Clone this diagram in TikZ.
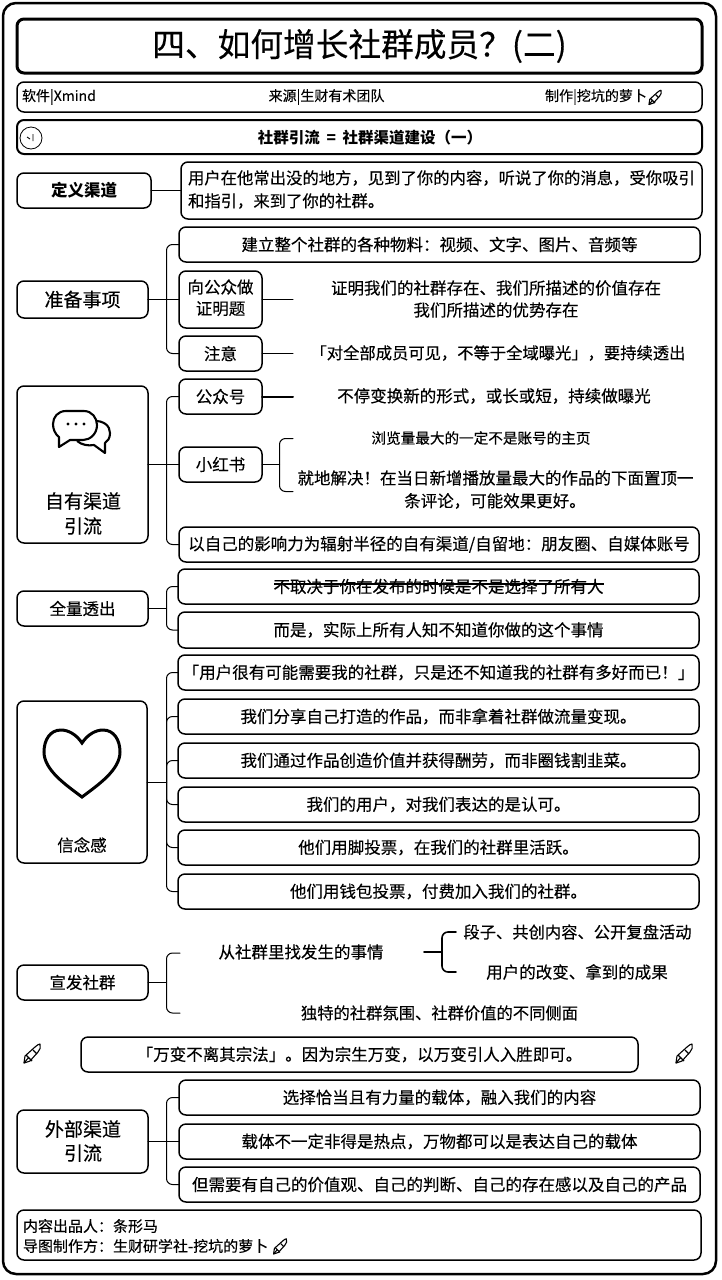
\documentclass[tikz,border=0pt]{standalone}
\usepackage{fontspec}
\setmainfont[FakeBold=0.25,BoldFeatures={FakeBold=0}]{Noto Sans CJK SC}
\newcommand{\fs}[1]{\fontsize{#1}{#1}\selectfont}
\tikzset{
 x=1pt,y=-1pt,
 bx/.style={draw=black,line width=1.5pt,rounded corners=7pt,inner sep=0pt,outer sep=0pt,align=center},
 tx/.style={inner sep=0pt,outer sep=0pt,align=center,text=black},
 lf/.style={tx,anchor=west},
 conn/.style={draw=black,line width=1pt,line cap=round},
 br/.style={conn,rounded corners=6pt},
 penicon/.pic={
  \draw[line width=1.1pt,line join=round,fill=white] (-8,10) -- (-7,3) -- (3,-6) .. controls (5,-8) and (7,-9) .. (8,-9) .. controls (9,-6) and (8,-3) .. (6,-1) -- (-2,8) -- cycle;
  \draw[line width=1.1pt] (-8,10) -- (-3,4) (-6,2) -- (0,8) (1,-3) -- (5,1);
 }
}
% name x1 y1 x2 y2 style size text
\newcommand{\B}[8]{%
 \pgfmathsetmacro{\cx}{(#2+#4)/2}\pgfmathsetmacro{\cy}{(#3+#5)/2}%
 \pgfmathsetmacro{\ww}{#4-#2}\pgfmathsetmacro{\hh}{#5-#3}%
 \node[bx,#6,minimum width=\ww pt,minimum height=\hh pt,font=\fs{#7}] (#1) at (\cx,\cy) {#8};}
\newcommand{\T}[5]{\node[tx,font=\fs{#4}] (#1) at (#2,#3) {#5};}
\newcommand{\stem}[1]{\draw[conn] (#1.east) -- (tk |- #1.east);}
\newcommand{\Br}[2]{\draw[br] (tk |- #1.east) |- (#2.west);}
\begin{document}
\begin{tikzpicture}
\useasboundingbox (0,0) rectangle (722,1280);
\fill[white] (0,0) rectangle (722,1280);
\coordinate (tk) at (166.5,0);
\draw[line width=2.5pt,rounded corners=13pt] (3,3) rectangle (716,1274);
\B{title}{17}{19}{702}{73}{line width=3pt}{34}{}
\node[tx,font=\fs{32.7}] (titletext) at (359.5,46) {四、如何增长社群成员？(二)};
\B{info}{17}{82}{702}{112}{}{14}{}
\node[lf,font=\fs{14}] (soft) at (22,97) {软件|Xmind};
\T{src}{326.5}{97}{14}{来源|生财有术团队}
\T{made}{596}{97}{14}{制作|挖坑的萝卜}
\pic at (655,97) [scale=.75] {penicon};
\B{head}{17}{120}{702}{154}{line width=2pt}{15.5}{}
\T{headtext}{370}{138}{15.5}{\bfseries 社群引流\hspace{3pt} = \hspace{3pt}社群渠道建设（一）}
\node[circle,draw,line width=.8pt,minimum size=22pt,inner sep=0pt] (clock) at (31,138) {};
\draw[line width=.9pt] (27,137) -- (30,139) (33,134) -- (33,141);
\B{def}{17}{173}{151}{208}{}{16.5}{\bfseries 定义渠道}
\B{defbody}{181}{162}{702}{219}{}{16.3}{}
\node[lf,font=\fs{16.35}] (d1) at (188,178) {用户在他常出没的地方，见到了你的内容，听说了你的消息，受你吸引};
\node[lf,font=\fs{16.35}] (d2) at (188,201) {和指引，来到了你的社群。};
\draw[conn] (def) -- (defbody);
% prep
\B{prep}{17}{281}{148}{318}{}{19}{准备事项}
\B{p1}{179}{227}{700}{262}{}{16.5}{建立整个社群的各种物料：视频、文字、图片、音频等}
\B{p2}{179}{271}{262}{328}{}{16.5}{\begin{tabular}{@{}c@{}}向公众做\\[3pt]证明题\end{tabular}}
\B{p3}{179}{336}{262}{371}{}{16.5}{注意}
\stem{prep}\Br{prep}{p1}\Br{prep}{p3}\draw[conn] (prep.east) -- (p2.west);
\coordinate (p2e) at (293,299.5);\draw[conn] (p2.east) -- (p2e);
\coordinate (p3e) at (293,353.5);\draw[conn] (p3.east) -- (p3e);
\T{p2a}{496}{288}{16.5}{证明我们的社群存在、我们所描述的价值存在}
\T{p2b}{496}{310}{16.5}{我们所描述的优势存在}
\T{p3a}{498}{353}{16.3}{「对全部成员可见，不等于全域曝光」，要持续透出}
% own
\B{own}{17}{386}{148}{543}{}{19}{}
\T{own1}{83}{501}{19}{自有渠道}
\T{own2}{83}{526}{19}{引流}
\draw[line width=2.1pt,line join=round,fill=white] (92,421) .. controls (104,420) and (110,426) .. (110,433) .. controls (110,438) and (108,441) .. (105,443) -- (105,453) -- (94,445) .. controls (88,446) and (82,445) .. (77,441);
\draw[line width=2.1pt,line join=round,fill=white] (66,411) -- (84,411) .. controls (92,411) and (97,418) .. (97,425) .. controls (97,434) and (90,440) .. (83,440) -- (70,440) -- (59,447) -- (59,437) .. controls (55,434) and (53,429) .. (53,424) .. controls (53,417) and (58,411) .. (66,411) -- cycle;
\fill (68,424) circle (1.7) (76,424) circle (1.7) (84,424) circle (1.7);
\B{o1}{179}{379}{262}{414}{}{16.5}{公众号}
\B{o2}{179}{447}{262}{482}{}{16.5}{小红书}
\B{o3}{179}{527}{699}{562}{}{16.5}{以自己的影响力为辐射半径的自有渠道/自留地：朋友圈、自媒体账号}
\stem{own}\Br{own}{o1}\Br{own}{o3}\draw[conn] (own.east) -- (o2.west);
\coordinate (o1e) at (293,396.5);\draw[conn,line width=2pt] (o1.east) -- (o1e);
\T{o1a}{494}{396}{16.5}{不停变换新的形式，或长或短，持续做曝光}
\coordinate (o2j) at (279.5,464.5);\coordinate (o2u) at (293,438.5);\coordinate (o2d) at (293,491.5);
\draw[conn] (o2.east) -- (o2j);
\draw[br] (o2u) -| (o2j) |- (o2d);
\T{o2a}{481}{438}{14.6}{浏览量最大的一定不是账号的主页}
\T{o2b}{495.5}{478}{16.5}{就地解决！在当日新增播放量最大的作品的下面置顶一}
\T{o2c}{495}{501}{16.5}{条评论，可能效果更好。}
% all
\B{all}{17}{591}{148}{626}{}{16.5}{全量透出}
\B{a1}{178}{569}{699}{604}{}{16.5}{不取决于你在发布的时候是不是选择了所有人}
\B{a2}{178}{612}{699}{648}{}{16.5}{而是，实际上所有人知不知道你做的这个事情}
\stem{all}\Br{all}{a1}\Br{all}{a2}
\coordinate (sl) at (274,584);\coordinate (sr) at (604,584);\draw[line width=1.1pt] (sl) -- (sr);
% belief
\B{bel}{17}{701}{147}{863}{}{16.5}{}
\draw[line width=3pt,line join=miter] (82,743) .. controls (76,734) and (68,730) .. (61,730) .. controls (50,730) and (44,740) .. (44,752) .. controls (44,770) and (66,785) .. (82,797) .. controls (98,785) and (120,770) .. (120,752) .. controls (120,740) and (114,730) .. (103,730) .. controls (96,730) and (88,734) .. (82,743) -- cycle;
\T{bel1}{82}{845}{16.5}{信念感}
\B{b1}{178}{655}{699}{690}{}{16.5}{「用户很有可能需要我的社群，只是还不知道我的社群有多好而已！」}
\B{b2}{178}{699}{699}{734}{}{16.5}{我们分享自己打造的作品，而非拿着社群做流量变现。}
\B{b3}{178}{743}{699}{778}{}{16.5}{我们通过作品创造价值并获得酬劳，而非圈钱割韭菜。}
\B{b4}{178}{787}{699}{822}{}{16.5}{我们的用户，对我们表达的是认可。}
\B{b5}{178}{830}{699}{865}{}{16.5}{他们用脚投票，在我们的社群里活跃。}
\B{b6}{178}{874}{699}{909}{}{16.5}{他们用钱包投票，付费加入我们的社群。}
\stem{bel}\Br{bel}{b1}\Br{bel}{b2}\Br{bel}{b3}\Br{bel}{b4}\Br{bel}{b5}\Br{bel}{b6}
% promo
\B{pro}{17}{965}{148}{1000}{}{16.5}{宣发社群}
\stem{pro}
\coordinate (pu) at (180,953);\coordinate (pd) at (180,1013);
\draw[br] (pu) -| (tk |- pro.east) |- (pd);
\T{pr1}{301}{952}{16.5}{从社群里找发生的事情}
\T{pr2}{577.5}{932}{16.3}{段子、共创内容、公开复盘活动}
\T{pr3}{577}{972}{16.5}{用户的改变、拿到的成果}
\T{pr4}{439.5}{1013}{16.3}{独特的社群氛围、社群价值的不同侧面}
\coordinate (prs) at (424,952);\coordinate (prj) at (442,952);\coordinate (pru) at (456,932);\coordinate (prd) at (456,972);
\draw[conn,line width=1.6pt] (prs) -- (prj);
\draw[br,line width=1.6pt] (pru) -| (prj) |- (prd);
% quote
\pic at (32,1053) {penicon};
\pic at (684,1053) {penicon};
\B{q}{81}{1037}{638}{1072}{}{16.5}{「万变不离其宗法」。因为宗生万变，以万变引人入胜即可。}
% ext
\B{ext}{17}{1110}{148}{1173}{}{19}{}
\T{ext1}{83}{1129}{19}{外部渠道}
\T{ext2}{83}{1153}{19}{引流}
\B{e1}{179}{1080}{700}{1115}{}{16.5}{选择恰当且有力量的载体，融入我们的内容}
\B{e2}{179}{1124}{700}{1159}{}{16.5}{载体不一定非得是热点，万物都可以是表达自己的载体}
\B{e3}{179}{1167}{700}{1202}{}{16.5}{但需要有自己的价值观、自己的判断、自己的存在感以及自己的产品}
\Br{ext}{e1}\Br{ext}{e3}\draw[conn] (ext.east) -- (e2.west);
% footer
\B{foot}{17}{1210}{701}{1260}{}{15}{}
\node[lf,font=\fs{15}] (f1) at (23,1226) {内容出品人：条形马};
\node[lf,font=\fs{15}] (f2) at (23,1246) {导图制作方：生财研学社-挖坑的萝卜};
\pic at (280,1246) [scale=.8] {penicon};
\end{tikzpicture}
\end{document}
